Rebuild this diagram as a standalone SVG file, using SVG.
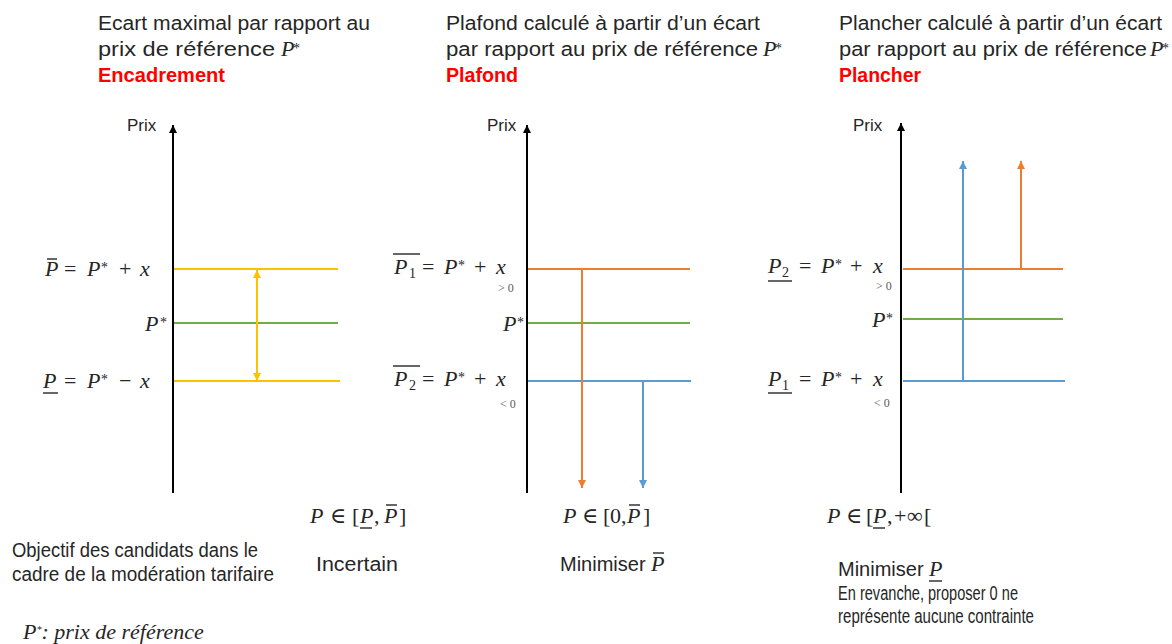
<svg xmlns="http://www.w3.org/2000/svg" width="1172" height="644" viewBox="0 0 1172 644">
<style>
.t{font-family:"Liberation Sans",Arial,sans-serif;font-size:20px;fill:#262626}
.red{font-family:"Liberation Sans",Arial,sans-serif;font-size:20px;font-weight:bold;fill:#FF0000}
.m{font-family:"Liberation Serif","DejaVu Serif",serif;font-size:22px;fill:#262626}
.i{font-style:italic}
.sup{font-size:14px}
.sub{font-size:14px}
.sm{font-family:"Liberation Serif","DejaVu Serif",serif;font-size:12px;fill:#595959}
.prix{font-family:"Liberation Sans",Arial,sans-serif;font-size:17px;fill:#262626}
.ax{stroke:#000;stroke-width:2;fill:none}
.y{stroke:#FFC000;stroke-width:2;fill:none}
.g{stroke:#70AD47;stroke-width:2;fill:none}
.o{stroke:#ED7D31;stroke-width:2;fill:none}
.b{stroke:#5B9BD5;stroke-width:2;fill:none}
.bar{stroke:#262626;stroke-width:1.4}
</style>
<defs>
<marker id="ak" markerUnits="userSpaceOnUse" markerWidth="8" markerHeight="9" refX="8" refY="4" orient="auto"><path d="M0,0 L8,4 L0,8 z" fill="#000"/></marker>
<marker id="ay" markerUnits="userSpaceOnUse" markerWidth="8" markerHeight="9" refX="8" refY="4" orient="auto-start-reverse"><path d="M0,0 L8,4 L0,8 z" fill="#FFC000"/></marker>
<marker id="ao" markerUnits="userSpaceOnUse" markerWidth="8" markerHeight="9" refX="8" refY="4" orient="auto"><path d="M0,0 L8,4 L0,8 z" fill="#ED7D31"/></marker>
<marker id="ab" markerUnits="userSpaceOnUse" markerWidth="8" markerHeight="9" refX="8" refY="4" orient="auto"><path d="M0,0 L8,4 L0,8 z" fill="#5B9BD5"/></marker>
</defs>

<!-- Titles -->
<g id="title-encadrement">
<text class="t" x="98" y="30" textLength="272" lengthAdjust="spacingAndGlyphs">Ecart maximal par rapport au</text>
<text class="t" x="98" y="56" textLength="177" lengthAdjust="spacingAndGlyphs">prix de référence</text>
<text class="m i" x="281" y="56" font-size="20">P</text><text class="m sup" x="293" y="53">*</text>
<text class="red" x="98" y="82" textLength="127" lengthAdjust="spacingAndGlyphs">Encadrement</text>
</g>
<g id="title-plafond">
<text class="t" x="446" y="30" textLength="314" lengthAdjust="spacingAndGlyphs">Plafond calculé à partir d’un écart</text>
<text class="t" x="446" y="56" textLength="312" lengthAdjust="spacingAndGlyphs">par rapport au prix de référence</text>
<text class="m i" x="763" y="56" font-size="20">P</text><text class="m sup" x="775" y="53">*</text>
<text class="red" x="446" y="82" textLength="72" lengthAdjust="spacingAndGlyphs">Plafond</text>
</g>
<g id="title-plancher">
<text class="t" x="839" y="30" textLength="323" lengthAdjust="spacingAndGlyphs">Plancher calculé à partir d’un écart</text>
<text class="t" x="839" y="56" textLength="308" lengthAdjust="spacingAndGlyphs">par rapport au prix de référence</text>
<text class="m i" x="1150" y="56" font-size="20">P</text><text class="m sup" x="1162" y="53">*</text>
<text class="red" x="839" y="82" textLength="82" lengthAdjust="spacingAndGlyphs">Plancher</text>
</g>

<!-- Panel 1 -->
<g id="panel-encadrement">
<text class="prix" x="127" y="131">Prix</text>
<line class="y" x1="173" y1="269" x2="338" y2="269"/>
<line class="g" x1="173" y1="323" x2="338" y2="323"/>
<line class="y" x1="173" y1="381" x2="340" y2="381"/>
<text class="m i" x="45" y="276">P</text>
<line class="bar" x1="47" y1="259" x2="57" y2="259"/>
<text class="m" x="64" y="276">=</text>
<text class="m i" x="87" y="276">P</text><text class="m sup" x="101" y="272">*</text>
<text class="m" x="119" y="276">+</text>
<text class="m i" x="140" y="276">x</text>
<text class="m i" x="145" y="331">P</text><text class="m sup" x="160" y="327">*</text>
<text class="m i" x="43" y="388">P</text>
<line class="bar" x1="43" y1="393" x2="58" y2="393"/>
<text class="m" x="64" y="388">=</text>
<text class="m i" x="87" y="388">P</text><text class="m sup" x="101" y="384">*</text>
<text class="m" x="119" y="388">−</text>
<text class="m i" x="140" y="388">x</text>
</g>

<!-- Panel 2 -->
<g id="panel-plafond">
<text class="prix" x="487" y="131">Prix</text>
<line class="o" x1="527" y1="269" x2="690" y2="269"/>
<line class="g" x1="527" y1="323" x2="690" y2="323"/>
<line class="b" x1="527" y1="381" x2="691" y2="381"/>
<text class="m i" x="394" y="274">P</text><text class="m sub" x="409" y="278">1</text>
<line class="bar" x1="393" y1="254" x2="420" y2="254"/>
<text class="m" x="422" y="274">=</text>
<text class="m i" x="444" y="274">P</text><text class="m sup" x="458" y="270">*</text>
<text class="m" x="474" y="274">+</text>
<text class="m i" x="496" y="274">x</text>
<text class="sm" x="498" y="292">&gt; 0</text>
<text class="m i" x="503" y="331">P</text><text class="m sup" x="517" y="327">*</text>
<text class="m i" x="394" y="386">P</text><text class="m sub" x="409" y="390">2</text>
<line class="bar" x1="393" y1="366" x2="420" y2="366"/>
<text class="m" x="422" y="386">=</text>
<text class="m i" x="444" y="386">P</text><text class="m sup" x="458" y="382">*</text>
<text class="m" x="474" y="386">+</text>
<text class="m i" x="496" y="386">x</text>
<text class="sm" x="500" y="408">&lt; 0</text>
</g>

<!-- Panel 3 -->
<g id="panel-plancher">
<text class="prix" x="853" y="131">Prix</text>
<line class="o" x1="903" y1="269" x2="1063" y2="269"/>
<line class="g" x1="903" y1="319" x2="1063" y2="319"/>
<line class="b" x1="903" y1="381" x2="1065" y2="381"/>
<text class="m i" x="768" y="273">P</text><text class="m sub" x="782" y="277">2</text>
<line class="bar" x1="768" y1="281" x2="792" y2="281"/>
<text class="m" x="799" y="273">=</text>
<text class="m i" x="821" y="273">P</text><text class="m sup" x="835" y="269">*</text>
<text class="m" x="850" y="273">+</text>
<text class="m i" x="873" y="273">x</text>
<text class="sm" x="876" y="290">&gt; 0</text>
<text class="m i" x="872" y="327">P</text><text class="m sup" x="886" y="323">*</text>
<text class="m i" x="768" y="386">P</text><text class="m sub" x="782" y="390">1</text>
<line class="bar" x1="768" y1="393" x2="792" y2="393"/>
<text class="m" x="799" y="386">=</text>
<text class="m i" x="821" y="386">P</text><text class="m sup" x="835" y="382">*</text>
<text class="m" x="850" y="386">+</text>
<text class="m i" x="873" y="386">x</text>
<text class="sm" x="874" y="407">&lt; 0</text>
</g>

<!-- Bottom formulas and objectives -->
<g id="formula-encadrement">
<text class="m i" x="310" y="523">P</text>
<text class="m" x="330" y="523">∈</text>
<text class="m" x="352" y="523">[</text>
<text class="m i" x="360" y="523">P</text>
<line class="bar" x1="360" y1="528" x2="372" y2="528"/>
<text class="m" x="374" y="523">,</text>
<text class="m i" x="384" y="523">P</text>
<line class="bar" x1="386" y1="505" x2="397" y2="505"/>
<text class="m" x="399" y="523">]</text>
</g>
<g id="formula-plafond">
<text class="m i" x="563" y="523">P</text>
<text class="m" x="582" y="523">∈</text>
<text class="m" x="603" y="523">[</text>
<text class="m" x="610" y="523">0</text>
<text class="m" x="621" y="523">,</text>
<text class="m i" x="627" y="523">P</text>
<line class="bar" x1="629" y1="505" x2="640" y2="505"/>
<text class="m" x="643" y="523">]</text>
</g>
<g id="formula-plancher">
<text class="m i" x="827" y="523">P</text>
<text class="m" x="846" y="523">∈</text>
<text class="m" x="866" y="523">[</text>
<text class="m i" x="873" y="523">P</text>
<line class="bar" x1="873" y1="528" x2="885" y2="528"/>
<text class="m" x="887" y="523">,</text>
<text class="m" x="894" y="523">+</text>
<text class="m" x="907" y="523">∞</text>
<text class="m" x="924" y="523">[</text>
</g>
<g id="objective-label">
<text class="t" x="12" y="557" font-size="17" textLength="246" lengthAdjust="spacingAndGlyphs">Objectif des candidats dans le</text>
<text class="t" x="12" y="581" font-size="17" textLength="262" lengthAdjust="spacingAndGlyphs">cadre de la modération tarifaire</text>
</g>
<g id="objective-encadrement">
<text class="t" x="316" y="571" textLength="82" lengthAdjust="spacingAndGlyphs">Incertain</text>
</g>
<g id="objective-plafond">
<text class="t" x="560" y="571">Minimiser</text>
<text class="m i" x="651" y="571">P</text>
<line class="bar" x1="653" y1="553" x2="664" y2="553"/>
</g>
<g id="objective-plancher">
<text class="t" x="838" y="576">Minimiser</text>
<text class="m i" x="929" y="576">P</text>
<line class="bar" x1="929" y1="581" x2="942" y2="581"/>
<text class="t" x="838" y="600" font-size="17" textLength="180" lengthAdjust="spacingAndGlyphs">En revanche, proposer 0 ne</text>
<text class="t" x="838" y="623" font-size="17" textLength="196" lengthAdjust="spacingAndGlyphs">représente aucune contrainte</text>
</g>
<g id="legend">
<text class="m i" x="23" y="639" font-size="15">P<tspan font-size="10" dy="-6">*</tspan><tspan dy="6">: prix de référence</tspan></text>
</g>

<!-- Connectors -->
<g id="connectors">
<line class="ax" x1="173" y1="493" x2="173" y2="125" marker-end="url(#ak)"/>
<line class="ax" x1="527" y1="493" x2="527" y2="125" marker-end="url(#ak)"/>
<line class="ax" x1="901" y1="493" x2="901" y2="123" marker-end="url(#ak)"/>
<line class="y" x1="257" y1="270" x2="257" y2="381" marker-start="url(#ay)" marker-end="url(#ay)"/>
<line class="o" x1="582" y1="269" x2="582" y2="488" marker-end="url(#ao)"/>
<line class="b" x1="643" y1="381" x2="643" y2="488" marker-end="url(#ab)"/>
<line class="b" x1="963" y1="381" x2="963" y2="161" marker-end="url(#ab)"/>
<line class="o" x1="1021" y1="269" x2="1021" y2="161" marker-end="url(#ao)"/>
</g>
</svg>
